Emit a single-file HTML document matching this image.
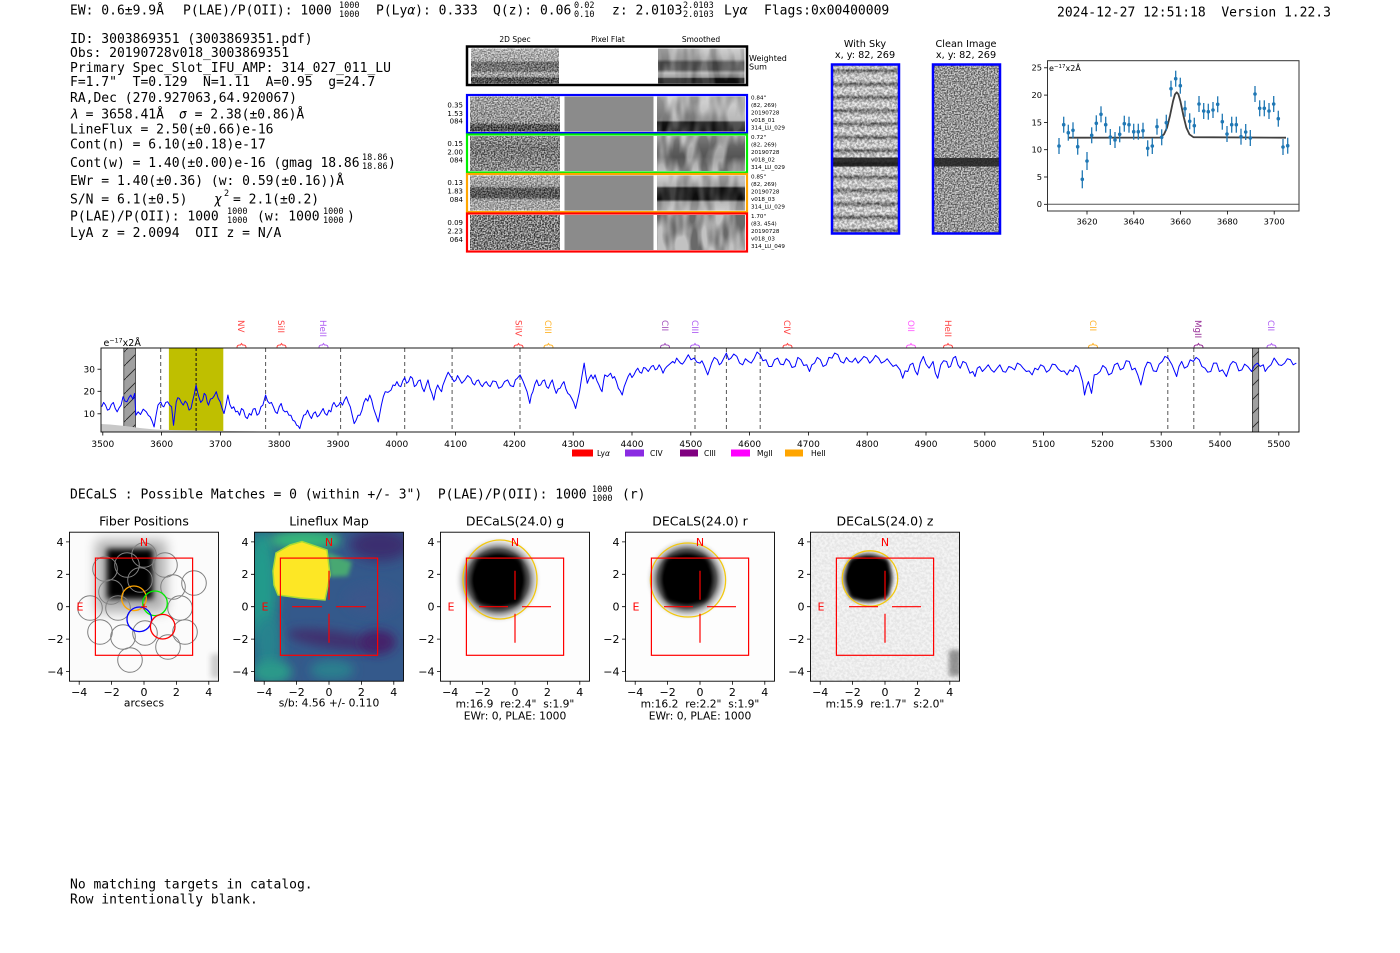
<!DOCTYPE html>
<html><head><meta charset="utf-8"><style>
html,body{margin:0;padding:0;background:#fff;}
svg{display:block;}
text{white-space:pre;}
.m{font-family:"DejaVu Sans Mono","Liberation Mono",monospace;font-size:13px;fill:#000;}
.ss{font-size:8.5px;}
.s{font-family:"DejaVu Sans","Liberation Sans",sans-serif;fill:#000;}
.t11{font-size:11px;}
.t9{font-size:9px;}
.t8{font-size:8px;}
</style></head><body>
<svg width="1400" height="953" viewBox="0 0 1400 953" xmlns="http://www.w3.org/2000/svg" xml:space="preserve">
<defs>
<filter id="nzHi" x="0" y="0" width="1" height="1" color-interpolation-filters="sRGB"><feTurbulence type="fractalNoise" baseFrequency="0.7" numOctaves="1" seed="2"/><feColorMatrix type="matrix" values="3 0 0 0 -1  3 0 0 0 -1  3 0 0 0 -1  0 0 0 0 1"/></filter>
<filter id="nzMd" x="0" y="0" width="1" height="1" color-interpolation-filters="sRGB"><feTurbulence type="fractalNoise" baseFrequency="0.4" numOctaves="2" seed="7"/><feColorMatrix type="matrix" values="3 0 0 0 -1  3 0 0 0 -1  3 0 0 0 -1  0 0 0 0 1"/></filter>
<filter id="nzSm" x="0" y="0" width="1" height="1" color-interpolation-filters="sRGB"><feTurbulence type="fractalNoise" baseFrequency="0.09 0.03" numOctaves="2" seed="5"/><feColorMatrix type="matrix" values="3 0 0 0 -1  3 0 0 0 -1  3 0 0 0 -1  0 0 0 0 1"/></filter>
<filter id="b2" x="-50%" y="-50%" width="200%" height="200%"><feGaussianBlur stdDeviation="2"/></filter>
<filter id="b3" x="-50%" y="-50%" width="200%" height="200%"><feGaussianBlur stdDeviation="3"/></filter>
<filter id="b5" x="-60%" y="-60%" width="220%" height="220%"><feGaussianBlur stdDeviation="5"/></filter>
<filter id="b6" x="-50%" y="-50%" width="200%" height="200%"><feGaussianBlur stdDeviation="6"/></filter>
<filter id="b9" x="-60%" y="-60%" width="220%" height="220%"><feGaussianBlur stdDeviation="9"/></filter>
<linearGradient id="gW2" x1="0" y1="0" x2="0" y2="1"><stop offset="0" stop-color="#d0d0d0"/><stop offset="0.35" stop-color="#c0c0c0"/><stop offset="0.4" stop-color="#666"/><stop offset="0.65" stop-color="#707070"/><stop offset="0.7" stop-color="#c8c8c8"/><stop offset="0.8" stop-color="#b0b0b0"/><stop offset="0.85" stop-color="#303030"/><stop offset="1" stop-color="#303030"/></linearGradient>
<linearGradient id="gWs" x1="0" y1="0" x2="0" y2="1"><stop offset="0" stop-color="#c4c4c4"/><stop offset="0.3" stop-color="#a8a8a8"/><stop offset="0.4" stop-color="#505050"/><stop offset="0.6" stop-color="#555"/><stop offset="0.7" stop-color="#b0b0b0"/><stop offset="0.82" stop-color="#8a8a8a"/><stop offset="0.86" stop-color="#101010"/><stop offset="1" stop-color="#101010"/></linearGradient>
<linearGradient id="gB2" x1="0" y1="0" x2="0" y2="1"><stop offset="0" stop-color="#b8b8b8"/><stop offset="0.75" stop-color="#a8a8a8"/><stop offset="0.8" stop-color="#404040"/><stop offset="1" stop-color="#202020"/></linearGradient>
<linearGradient id="gBs" x1="0" y1="0" x2="0" y2="1"><stop offset="0" stop-color="#c8c8c8"/><stop offset="0.68" stop-color="#a0a0a0"/><stop offset="0.74" stop-color="#1a1a1a"/><stop offset="1" stop-color="#101010"/></linearGradient>
<linearGradient id="gG2" x1="0" y1="0" x2="0" y2="1"><stop offset="0" stop-color="#a0a0a0"/><stop offset="0.35" stop-color="#707070"/><stop offset="0.6" stop-color="#808080"/><stop offset="1" stop-color="#9a9a9a"/></linearGradient>
<linearGradient id="gGs" x1="0" y1="0" x2="0" y2="1"><stop offset="0" stop-color="#b5b5b5"/><stop offset="0.35" stop-color="#8a8a8a"/><stop offset="0.6" stop-color="#7a7a7a"/><stop offset="1" stop-color="#a5a5a5"/></linearGradient>
<linearGradient id="gO2" x1="0" y1="0" x2="0" y2="1"><stop offset="0" stop-color="#c8c8c8"/><stop offset="0.3" stop-color="#b0b0b0"/><stop offset="0.38" stop-color="#404040"/><stop offset="0.62" stop-color="#404040"/><stop offset="0.7" stop-color="#b8b8b8"/><stop offset="1" stop-color="#c0c0c0"/></linearGradient>
<linearGradient id="gOs" x1="0" y1="0" x2="0" y2="1"><stop offset="0" stop-color="#c8c8c8"/><stop offset="0.3" stop-color="#a0a0a0"/><stop offset="0.36" stop-color="#111"/><stop offset="0.68" stop-color="#111"/><stop offset="0.76" stop-color="#a8a8a8"/><stop offset="1" stop-color="#c0c0c0"/></linearGradient>
<linearGradient id="gStr" gradientUnits="userSpaceOnUse" x1="0" y1="64" x2="0" y2="77.3" spreadMethod="repeat"><stop offset="0" stop-color="#ececec"/><stop offset="0.3" stop-color="#d8d8d8"/><stop offset="0.5" stop-color="#5c5c5c"/><stop offset="0.72" stop-color="#c8c8c8"/><stop offset="1" stop-color="#ececec"/></linearGradient>
<radialGradient id="blobG"><stop offset="0" stop-color="#000"/><stop offset="0.55" stop-color="#000"/><stop offset="0.7" stop-color="#444" stop-opacity="0.9"/><stop offset="0.85" stop-color="#aaa" stop-opacity="0.5"/><stop offset="1" stop-color="#fff" stop-opacity="0"/></radialGradient>
<radialGradient id="blobZ"><stop offset="0" stop-color="#000"/><stop offset="0.7" stop-color="#000"/><stop offset="0.85" stop-color="#777" stop-opacity="0.7"/><stop offset="1" stop-color="#fff" stop-opacity="0"/></radialGradient>
<pattern id="hatch" patternUnits="userSpaceOnUse" width="14" height="14"><rect width="14" height="14" fill="#a0a0a0"/><path d="M0,14 L14,0" stroke="#222" stroke-width="0.8"/></pattern>
<clipPath id="cpS"><rect x="101" y="348" width="1198" height="84"/></clipPath>
<clipPath id="cpF"><rect x="69.5" y="532.2" width="149" height="149"/></clipPath>
<clipPath id="cpL"><rect x="254.5" y="532.2" width="149" height="149"/></clipPath>
<clipPath id="cpG"><rect x="440.5" y="532.2" width="149" height="149"/></clipPath>
<clipPath id="cpR"><rect x="625.5" y="532.2" width="149" height="149"/></clipPath>
<clipPath id="cpZ"><rect x="810.5" y="532.2" width="149" height="149"/></clipPath>
</defs>

<!-- HEADER -->
<text class="m" x="70" y="14.5">EW: 0.6±9.9Å</text>
<text class="m" x="183" y="14.5">P(LAE)/P(OII): 1000</text>
<text class="m ss" x="339" y="8">1000</text><text class="m ss" x="339" y="17">1000</text>
<text class="m" x="376" y="14.5">P(Ly<tspan font-style="italic">α</tspan>): 0.333</text>
<text class="m" x="493" y="14.5">Q(z): 0.06</text>
<text class="m ss" x="574" y="8">0.02</text><text class="m ss" x="574" y="17">0.10</text>
<text class="m" x="612" y="14.5">z: 2.0103</text>
<text class="m ss" x="683" y="8">2.0103</text><text class="m ss" x="683" y="17">2.0103</text>
<text class="m" x="724" y="14.5">Ly<tspan font-style="italic">α</tspan></text>
<text class="m" x="764" y="14.5">Flags:0x00400009</text>
<text class="m" x="1057" y="16.5">2024-12-27 12:51:18  Version 1.22.3</text>

<!-- INFO BLOCK -->
<text class="m" x="70" y="42.8">ID: 3003869351 (3003869351.pdf)</text>
<text class="m" x="70" y="57.2">Obs: 20190728v018_3003869351</text>
<text class="m" x="70" y="72.2">Primary Spec_Slot_IFU_AMP: 314_027_011_LU</text>
<text class="m" x="70" y="86.2">F=1.7"  T=0.129  N=1.11  A=0.95  g=24.7</text>
<text class="m" x="70" y="102.2">RA,Dec (270.927063,64.920067)</text>
<text class="m" x="70" y="118.5"><tspan font-style="italic">λ</tspan> = 3658.41Å</text>
<text class="m" x="179" y="118.5"><tspan font-style="italic">σ</tspan> = 2.38(±0.86)Å</text>
<text class="m" x="70" y="133.5">LineFlux = 2.50(±0.66)e-16</text>
<text class="m" x="70" y="148.5">Cont(n) = 6.10(±0.18)e-17</text>
<text class="m" x="70" y="167.2">Cont(w) = 1.40(±0.00)e-16 (gmag 18.86</text>
<text class="m ss" x="362" y="160">18.86</text><text class="m ss" x="362" y="169">18.86</text>
<text class="m" x="388" y="167.2">)</text>
<text class="m" x="70" y="185.2">EWr = 1.40(±0.36) (w: 0.59(±0.16))Å</text>
<text class="m" x="70" y="203.5">S/N = 6.1(±0.5)</text>
<text class="m" x="214" y="203.5"><tspan font-style="italic">χ</tspan></text>
<text class="m ss" x="224" y="196">2</text>
<text class="m" x="233" y="203.5">= 2.1(±0.2)</text>
<text class="m" x="70" y="220.5">P(LAE)/P(OII): 1000</text>
<text class="m ss" x="227" y="214">1000</text><text class="m ss" x="227" y="223">1000</text>
<text class="m" x="257" y="220.5">(w: 1000</text>
<text class="m ss" x="323" y="214">1000</text><text class="m ss" x="323" y="223">1000</text>
<text class="m" x="347" y="220.5">)</text>
<text class="m" x="70" y="236.8">LyA z = 2.0094  OII z = N/A</text>

<!-- 2D SPECTRA -->
<g class="s" font-size="7.5" text-anchor="middle">
<text x="515" y="42">2D Spec</text><text x="608" y="42">Pixel Flat</text><text x="701" y="42">Smoothed</text>
</g>
<text class="s" x="749" y="61" font-size="8">Weighted</text>
<text class="s" x="749" y="69.5" font-size="8">Sum</text>
<rect x="467" y="46.5" width="280" height="38.5" fill="#fff"/>
<rect x="471" y="48.5" width="88" height="35" fill="url(#gW2)"/>
<rect x="471" y="48.5" width="88" height="35" filter="url(#nzHi)" opacity="0.4"/>
<rect x="658" y="48.5" width="86.5" height="35" fill="url(#gWs)"/>
<rect x="658" y="48.5" width="86.5" height="35" filter="url(#nzSm)" opacity="0.2"/>
<rect x="467" y="46.5" width="280" height="38.5" fill="none" stroke="#000" stroke-width="2.5"/>
<g>
<rect x="470" y="96.5" width="90" height="35" fill="url(#gB2)"/><rect x="470" y="96.5" width="90" height="35" filter="url(#nzHi)" opacity="0.45"/>
<rect x="564.5" y="96.5" width="89" height="35" fill="#8b8b8b"/>
<rect x="657" y="96.5" width="88" height="35" fill="url(#gBs)"/><rect x="657" y="96.5" width="88" height="35" filter="url(#nzSm)" opacity="0.25"/>
<rect x="467" y="95" width="280" height="38" fill="none" stroke="#0000ff" stroke-width="2.2"/>

<rect x="470" y="136" width="90" height="35" fill="url(#gG2)"/><rect x="470" y="136" width="90" height="35" filter="url(#nzHi)" opacity="0.5"/>
<rect x="564.5" y="136" width="89" height="35" fill="#8b8b8b"/>
<rect x="657" y="136" width="88" height="35" fill="url(#gGs)"/><rect x="657" y="136" width="88" height="35" filter="url(#nzSm)" opacity="0.3"/>
<rect x="467" y="134.5" width="280" height="38" fill="none" stroke="#00ee00" stroke-width="2.2"/>

<rect x="470" y="175.5" width="90" height="35" fill="url(#gO2)"/><rect x="470" y="175.5" width="90" height="35" filter="url(#nzHi)" opacity="0.4"/>
<rect x="564.5" y="175.5" width="89" height="35" fill="#8b8b8b"/>
<rect x="657" y="175.5" width="88" height="35" fill="url(#gOs)"/><rect x="657" y="175.5" width="88" height="35" filter="url(#nzSm)" opacity="0.2"/>
<rect x="467" y="174" width="280" height="38" fill="none" stroke="#ffa500" stroke-width="2.2"/>

<rect x="470" y="215" width="90" height="35" fill="#7e7e7e"/><rect x="470" y="215" width="90" height="35" filter="url(#nzHi)" opacity="0.6"/>
<rect x="564.5" y="215" width="89" height="35" fill="#8b8b8b"/>
<rect x="657" y="215" width="88" height="35" fill="#a2a2a2"/><rect x="657" y="215" width="88" height="35" filter="url(#nzSm)" opacity="0.35"/>
<rect x="467" y="213.5" width="280" height="38" fill="none" stroke="#ff0000" stroke-width="2.2"/>
</g>
<g class="s" font-size="7" text-anchor="end">
<text x="463" y="107.5">0.35</text><text x="463" y="115.8">1.53</text><text x="463" y="123.5">084</text>
<text x="463" y="146">0.15</text><text x="463" y="154.3">2.00</text><text x="463" y="162.5">084</text>
<text x="463" y="185.2">0.13</text><text x="463" y="193.5">1.83</text><text x="463" y="201.8">084</text>
<text x="463" y="225.2">0.09</text><text x="463" y="233.5">2.23</text><text x="463" y="241.8">064</text>
</g>
<g class="s" font-size="5.6">
<text x="751" y="99.7">0.84"</text><text x="751" y="107.1">(82, 269)</text><text x="751" y="114.5">20190728</text><text x="751" y="121.9">v018_01</text><text x="751" y="129.3">314_LU_029</text>
<text x="751" y="139.2">0.72"</text><text x="751" y="146.6">(82, 269)</text><text x="751" y="154">20190728</text><text x="751" y="161.4">v018_02</text><text x="751" y="168.8">314_LU_029</text>
<text x="751" y="178.7">0.85"</text><text x="751" y="186.1">(82, 269)</text><text x="751" y="193.5">20190728</text><text x="751" y="200.9">v018_03</text><text x="751" y="208.3">314_LU_029</text>
<text x="751" y="218.2">1.70"</text><text x="751" y="225.6">(83, 454)</text><text x="751" y="233">20190728</text><text x="751" y="240.4">v018_03</text><text x="751" y="247.8">314_LU_049</text>
</g>

<!-- WITH SKY / CLEAN -->
<g class="s" font-size="9.7" text-anchor="middle">
<text x="865" y="47">With Sky</text><text x="865" y="58">x, y: 82, 269</text>
<text x="966" y="47">Clean Image</text><text x="966" y="58">x, y: 82, 269</text>
</g>
<rect x="832" y="64.5" width="67" height="169" fill="url(#gStr)"/>
<rect x="832" y="64.5" width="67" height="169" filter="url(#nzMd)" opacity="0.3"/>
<rect x="832" y="157.5" width="67" height="9" fill="#151515" opacity="0.85"/>
<rect x="832" y="64.5" width="67" height="169" fill="none" stroke="#0000ff" stroke-width="2.5"/>
<rect x="933" y="64.5" width="67" height="169" fill="#ababab"/>
<rect x="933" y="64.5" width="67" height="169" filter="url(#nzHi)" opacity="0.5"/>
<rect x="933" y="158" width="67" height="8.5" fill="#1e1e1e" opacity="0.85"/>
<rect x="933" y="64.5" width="67" height="169" fill="none" stroke="#0000ff" stroke-width="2.5"/>

<!-- MINI PLOT -->
<rect x="1047.5" y="60.7" width="251.5" height="150.3" fill="#fff" stroke="#333" stroke-width="1"/>
<line x1="1047.5" y1="204.3" x2="1299" y2="204.3" stroke="#555" stroke-width="1"/>
<g stroke="#000" stroke-width="0.8">
<line x1="1087" y1="211" x2="1087" y2="214.5"/><line x1="1133.8" y1="211" x2="1133.8" y2="214.5"/><line x1="1180.6" y1="211" x2="1180.6" y2="214.5"/><line x1="1227.4" y1="211" x2="1227.4" y2="214.5"/><line x1="1274.2" y1="211" x2="1274.2" y2="214.5"/>
<line x1="1044" y1="204.3" x2="1047.5" y2="204.3"/><line x1="1044" y1="177" x2="1047.5" y2="177"/><line x1="1044" y1="149.7" x2="1047.5" y2="149.7"/><line x1="1044" y1="122.4" x2="1047.5" y2="122.4"/><line x1="1044" y1="95.1" x2="1047.5" y2="95.1"/><line x1="1044" y1="67.8" x2="1047.5" y2="67.8"/>
</g>
<g class="s" font-size="8.3" text-anchor="middle">
<text x="1087" y="224.5">3620</text><text x="1133.8" y="224.5">3640</text><text x="1180.6" y="224.5">3660</text><text x="1227.4" y="224.5">3680</text><text x="1274.2" y="224.5">3700</text>
</g>
<g class="s" font-size="8.3" text-anchor="end">
<text x="1042" y="207.2">0</text><text x="1042" y="179.9">5</text><text x="1042" y="152.6">10</text><text x="1042" y="125.3">15</text><text x="1042" y="98">20</text><text x="1042" y="70.7">25</text>
</g>
<text class="s" x="1049" y="71" font-size="8">e<tspan dy="-3" font-size="5.5">−17</tspan><tspan dy="3">x2Å</tspan></text>
<polyline fill="none" stroke="#404040" stroke-width="1.8" stroke-linejoin="round" points="1068,137.7 1160,137.6 1164,134.3 1167,127.8 1170,115.6 1173,101.3 1175,94.3 1176.7,92.3 1178.4,94.3 1180.4,101.3 1183.4,115.6 1186.4,127.8 1189.4,134.3 1193.4,137.2 1286,137.7"/>
<g stroke="#1f77b4" stroke-width="1.3">
<line x1="1059" y1="138" x2="1059" y2="154"/><line x1="1063.7" y1="116.7" x2="1063.7" y2="132.7"/><line x1="1068.3" y1="124.7" x2="1068.3" y2="140.7"/><line x1="1073" y1="122.3" x2="1073" y2="138.3"/><line x1="1077.7" y1="138.7" x2="1077.7" y2="154.7"/><line x1="1082.3" y1="170.3" x2="1082.3" y2="188.3"/><line x1="1087" y1="152" x2="1087" y2="170"/><line x1="1091.7" y1="127.3" x2="1091.7" y2="143.3"/><line x1="1096.3" y1="115.3" x2="1096.3" y2="131.3"/><line x1="1101" y1="106.3" x2="1101" y2="122.3"/>
<line x1="1105.7" y1="116.7" x2="1105.7" y2="132.7"/><line x1="1110.3" y1="129" x2="1110.3" y2="145"/><line x1="1115" y1="132" x2="1115" y2="148"/><line x1="1119.7" y1="126.3" x2="1119.7" y2="142.3"/><line x1="1124.3" y1="115.7" x2="1124.3" y2="131.7"/><line x1="1129" y1="116.7" x2="1129" y2="132.7"/><line x1="1133.7" y1="123.7" x2="1133.7" y2="139.7"/><line x1="1138.3" y1="123.7" x2="1138.3" y2="139.7"/><line x1="1143" y1="122.7" x2="1143" y2="138.7"/><line x1="1147.7" y1="140.3" x2="1147.7" y2="156.3"/>
<line x1="1152.3" y1="138" x2="1152.3" y2="154"/><line x1="1157" y1="118.7" x2="1157" y2="134.7"/><line x1="1161.7" y1="129.3" x2="1161.7" y2="145.3"/><line x1="1166.3" y1="114.7" x2="1166.3" y2="130.7"/><line x1="1171" y1="80.7" x2="1171" y2="96.7"/><line x1="1175.7" y1="70.7" x2="1175.7" y2="86.7"/><line x1="1180.3" y1="77.7" x2="1180.3" y2="93.7"/><line x1="1185" y1="100.7" x2="1185" y2="116.7"/><line x1="1189.7" y1="113.3" x2="1189.7" y2="129.3"/><line x1="1194.3" y1="117.7" x2="1194.3" y2="133.7"/>
<line x1="1199" y1="96" x2="1199" y2="112"/><line x1="1203.7" y1="103" x2="1203.7" y2="119"/><line x1="1208.3" y1="103.7" x2="1208.3" y2="119.7"/><line x1="1213" y1="102" x2="1213" y2="118"/><line x1="1217.7" y1="96.3" x2="1217.7" y2="112.3"/><line x1="1222.3" y1="113.7" x2="1222.3" y2="129.7"/><line x1="1227" y1="126" x2="1227" y2="142"/><line x1="1231.7" y1="116.7" x2="1231.7" y2="132.7"/><line x1="1236.3" y1="116.7" x2="1236.3" y2="132.7"/><line x1="1241" y1="128.7" x2="1241" y2="144.7"/>
<line x1="1245.7" y1="124" x2="1245.7" y2="140"/><line x1="1250.3" y1="130" x2="1250.3" y2="146"/><line x1="1255" y1="86" x2="1255" y2="102"/><line x1="1259.7" y1="100.3" x2="1259.7" y2="116.3"/><line x1="1264.3" y1="100.3" x2="1264.3" y2="116.3"/><line x1="1269" y1="103" x2="1269" y2="119"/><line x1="1273.7" y1="96" x2="1273.7" y2="112"/><line x1="1278.3" y1="110.7" x2="1278.3" y2="126.7"/><line x1="1283" y1="139" x2="1283" y2="155"/><line x1="1287.7" y1="137.7" x2="1287.7" y2="153.7"/>
</g>
<g fill="#1f77b4">
<circle cx="1059" cy="146" r="1.8"/><circle cx="1063.7" cy="124.7" r="1.8"/><circle cx="1068.3" cy="132.7" r="1.8"/><circle cx="1073" cy="130.3" r="1.8"/><circle cx="1077.7" cy="146.7" r="1.8"/><circle cx="1082.3" cy="179.3" r="1.8"/><circle cx="1087" cy="161" r="1.8"/><circle cx="1091.7" cy="135.3" r="1.8"/><circle cx="1096.3" cy="123.3" r="1.8"/><circle cx="1101" cy="114.3" r="1.8"/>
<circle cx="1105.7" cy="124.7" r="1.8"/><circle cx="1110.3" cy="137" r="1.8"/><circle cx="1115" cy="140" r="1.8"/><circle cx="1119.7" cy="134.3" r="1.8"/><circle cx="1124.3" cy="123.7" r="1.8"/><circle cx="1129" cy="124.7" r="1.8"/><circle cx="1133.7" cy="131.7" r="1.8"/><circle cx="1138.3" cy="131.7" r="1.8"/><circle cx="1143" cy="130.7" r="1.8"/><circle cx="1147.7" cy="148.3" r="1.8"/>
<circle cx="1152.3" cy="146" r="1.8"/><circle cx="1157" cy="126.7" r="1.8"/><circle cx="1161.7" cy="137.3" r="1.8"/><circle cx="1166.3" cy="122.7" r="1.8"/><circle cx="1171" cy="88.7" r="1.8"/><circle cx="1175.7" cy="78.7" r="1.8"/><circle cx="1180.3" cy="85.7" r="1.8"/><circle cx="1185" cy="108.7" r="1.8"/><circle cx="1189.7" cy="121.3" r="1.8"/><circle cx="1194.3" cy="125.7" r="1.8"/>
<circle cx="1199" cy="104" r="1.8"/><circle cx="1203.7" cy="111" r="1.8"/><circle cx="1208.3" cy="111.7" r="1.8"/><circle cx="1213" cy="110" r="1.8"/><circle cx="1217.7" cy="104.3" r="1.8"/><circle cx="1222.3" cy="121.7" r="1.8"/><circle cx="1227" cy="134" r="1.8"/><circle cx="1231.7" cy="124.7" r="1.8"/><circle cx="1236.3" cy="124.7" r="1.8"/><circle cx="1241" cy="136.7" r="1.8"/>
<circle cx="1245.7" cy="132" r="1.8"/><circle cx="1250.3" cy="138" r="1.8"/><circle cx="1255" cy="94" r="1.8"/><circle cx="1259.7" cy="108.3" r="1.8"/><circle cx="1264.3" cy="108.3" r="1.8"/><circle cx="1269" cy="111" r="1.8"/><circle cx="1273.7" cy="104" r="1.8"/><circle cx="1278.3" cy="118.7" r="1.8"/><circle cx="1283" cy="147" r="1.8"/><circle cx="1287.7" cy="145.7" r="1.8"/>
</g>

<!-- MAIN SPECTRUM LABELS -->
<g class="s" font-size="8.7" opacity="0.85">
<text transform="translate(238,320) rotate(90)" fill="#ff2020">NV</text>
<text transform="translate(278,320) rotate(90)" fill="#ff2020">SiII</text>
<text transform="translate(320,320) rotate(90)" fill="#a040f0">HeII</text>
<text transform="translate(515.5,320) rotate(90)" fill="#ff2020">SiIV</text>
<text transform="translate(545,320) rotate(90)" fill="#ffa500">CIII</text>
<text transform="translate(662,320) rotate(90)" fill="#9030b0">CII</text>
<text transform="translate(692,320) rotate(90)" fill="#a040f0">CIII</text>
<text transform="translate(784,320) rotate(90)" fill="#ff2020">CIV</text>
<text transform="translate(908,320) rotate(90)" fill="#ff40ff">OII</text>
<text transform="translate(945,320) rotate(90)" fill="#ff2020">HeII</text>
<text transform="translate(1090,320) rotate(90)" fill="#ffa500">CII</text>
<text transform="translate(1195,320) rotate(90)" fill="#800080">MgII</text>
<text transform="translate(1268,320) rotate(90)" fill="#a040f0">CII</text>
</g>
<g fill="none" stroke-width="1" opacity="0.85">
<path d="M237,347.5 Q237,345 239.5,345 L240.5,345 L241.5,343.5 L242.5,345 L243.5,345 Q246,345 246,347.5" stroke="#ff2020"/>
<path d="M277,347.5 Q277,345 279.5,345 L280.5,345 L281.5,343.5 L282.5,345 L283.5,345 Q286,345 286,347.5" stroke="#ff2020"/>
<path d="M319,347.5 Q319,345 321.5,345 L322.5,345 L323.5,343.5 L324.5,345 L325.5,345 Q328,345 328,347.5" stroke="#a040f0"/>
<path d="M514,347.5 Q514,345 516.5,345 L517.5,345 L518.5,343.5 L519.5,345 L520.5,345 Q523,345 523,347.5" stroke="#ff2020"/>
<path d="M544,347.5 Q544,345 546.5,345 L547.5,345 L548.5,343.5 L549.5,345 L550.5,345 Q553,345 553,347.5" stroke="#ffa500"/>
<path d="M660.5,347.5 Q660.5,345 663,345 L664,345 L665,343.5 L666,345 L667,345 Q669.5,345 669.5,347.5" stroke="#9030b0"/>
<path d="M690.5,347.5 Q690.5,345 693,345 L694,345 L695,343.5 L696,345 L697,345 Q699.5,345 699.5,347.5" stroke="#a040f0"/>
<path d="M783,347.5 Q783,345 785.5,345 L786.5,345 L787.5,343.5 L788.5,345 L789.5,345 Q792,345 792,347.5" stroke="#ff2020"/>
<path d="M906.5,347.5 Q906.5,345 909,345 L910,345 L911,343.5 L912,345 L913,345 Q915.5,345 915.5,347.5" stroke="#ff40ff"/>
<path d="M943.5,347.5 Q943.5,345 946,345 L947,345 L948,343.5 L949,345 L950,345 Q952.5,345 952.5,347.5" stroke="#ff2020"/>
<path d="M1088.5,347.5 Q1088.5,345 1091,345 L1092,345 L1093,343.5 L1094,345 L1095,345 Q1097.5,345 1097.5,347.5" stroke="#ffa500"/>
<path d="M1194,347.5 Q1194,345 1196.5,345 L1197.5,345 L1198.5,343.5 L1199.5,345 L1200.5,345 Q1203,345 1203,347.5" stroke="#800080"/>
<path d="M1267,347.5 Q1267,345 1269.5,345 L1270.5,345 L1271.5,343.5 L1272.5,345 L1273.5,345 Q1276,345 1276,347.5" stroke="#a040f0"/>
</g>
<text class="s" x="103.5" y="346" font-size="9.5">e<tspan dy="-3.5" font-size="6.3">−17</tspan><tspan dy="3.5">x2Å</tspan></text>
<g clip-path="url(#cpS)">
<rect x="101" y="348" width="1198" height="84" fill="#fff"/>
<rect x="168.9" y="348" width="54.4" height="84" fill="#bfbf00"/>
<rect x="123.8" y="348" width="11.7" height="84" fill="url(#hatch)" stroke="#333" stroke-width="0.8"/>
<rect x="1252.4" y="348" width="6.3" height="84" fill="url(#hatch)" stroke="#333" stroke-width="0.8"/>
<polygon fill="#c8c8c8" points="101,432 101,424 110,424.5 125,426 140,428 155,429.5 170,430 230,431 260,431.5 260,432"/>
<g stroke="#555" stroke-width="1" stroke-dasharray="4,3">
<line x1="160.7" y1="348" x2="160.7" y2="432"/><line x1="265.6" y1="348" x2="265.6" y2="432"/><line x1="340.6" y1="348" x2="340.6" y2="432"/><line x1="404.7" y1="348" x2="404.7" y2="432"/><line x1="452.1" y1="348" x2="452.1" y2="432"/><line x1="520" y1="348" x2="520" y2="432"/><line x1="695" y1="348" x2="695" y2="432"/><line x1="726.4" y1="348" x2="726.4" y2="432"/><line x1="760.2" y1="348" x2="760.2" y2="432"/><line x1="1167.8" y1="348" x2="1167.8" y2="432"/><line x1="1193.8" y1="348" x2="1193.8" y2="432"/>
</g>
<line x1="196.1" y1="348" x2="196.1" y2="432" stroke="#111" stroke-width="1" stroke-dasharray="3,2"/>
<polyline transform="translate(90,314.4) scale(0.3885,0.336)" vector-effect="non-scaling-stroke" fill="none" stroke="#0000ff" stroke-width="1" stroke-linejoin="round" points="30,275 35,262 40,270 45,285 50,282 55,268 60,262 65,280 70,290 75,278 80,270 85,245 90,258 95,260 100,248 105,240 110,252 115,235 118,300 124,290 130,298 137,282 145,290 150,300 155,305 160,318 165,335 170,300 175,270 182,260 186,272 190,275 195,262 200,260 205,270 210,275 215,330 222,260 226,248 230,250 235,262 240,270 245,258 250,265 255,285 260,280 264,258 268,240 273,210 277,232 280,245 285,262 290,255 294,235 298,240 302,262 305,270 310,252 315,250 320,242 325,230 330,250 335,260 340,280 345,295 350,270 355,240 360,268 365,280 370,275 375,290 380,288 385,300 390,280 395,285 400,305 405,310 410,295 415,300 420,282 425,280 430,300 435,295 440,275 445,270 452,240 457,258 462,265 467,262 472,275 477,290 482,295 487,275 492,265 497,285 502,290 507,288 512,300 517,300 522,315 527,318 532,330 536,332 540,340 545,318 550,300 555,298 560,285 565,300 570,310 575,295 580,290 585,305 590,300 595,290 600,280 605,295 610,300 615,285 620,290 624,270 628,262 634,275 640,270 645,260 650,270 655,255 660,245 665,262 670,275 675,300 680,325 685,315 690,300 695,300 700,285 705,262 710,250 715,258 720,240 725,255 730,280 736,300 742,320 746,295 750,270 755,245 760,230 767,232 775,225 780,210 785,212 790,200 795,212 800,215 805,198 810,188 815,205 820,200 825,185 830,190 835,215 840,210 845,198 850,195 855,218 860,230 865,212 870,195 875,220 880,235 885,255 890,225 895,210 900,222 905,230 908,212 912,200 917,185 922,172 927,182 932,190 937,200 942,195 946,182 950,190 957,205 965,195 972,182 980,190 985,205 990,210 995,198 1000,195 1005,208 1010,215 1015,205 1020,200 1025,210 1030,215 1037,198 1045,200 1052,220 1060,215 1067,200 1075,195 1082,212 1090,215 1095,195 1100,190 1107,180 1111,190 1115,200 1120,215 1125,230 1132,265 1136,240 1140,230 1145,208 1150,195 1155,212 1160,210 1165,198 1170,195 1175,215 1180,220 1185,205 1190,195 1195,218 1200,235 1205,222 1210,220 1215,208 1220,200 1225,222 1230,235 1235,240 1240,250 1245,262 1250,280 1255,255 1260,230 1266,185 1272,145 1276,178 1280,205 1285,190 1290,180 1295,192 1300,180 1305,198 1310,210 1314,222 1318,230 1322,198 1325,180 1332,185 1340,175 1345,190 1350,185 1355,200 1360,220 1365,228 1370,240 1375,215 1380,200 1385,185 1390,175 1395,188 1400,180 1405,168 1410,160 1415,172 1420,175 1425,158 1430,160 1437,170 1445,155 1450,152 1455,165 1460,162 1465,150 1470,160 1475,175 1480,162 1485,155 1492,148 1500,140 1505,145 1510,130 1515,138 1520,145 1525,148 1530,140 1535,130 1540,120 1547,135 1555,130 1562,142 1570,145 1575,138 1580,150 1590,180 1600,145 1607,128 1615,135 1620,150 1625,145 1638,115 1644,135 1650,130 1657,118 1665,125 1672,145 1680,150 1687,132 1695,140 1702,145 1710,130 1717,112 1725,120 1732,138 1740,135 1747,155 1755,155 1762,135 1770,130 1777,148 1785,150 1792,132 1800,140 1807,158 1815,155 1822,128 1830,135 1837,152 1845,150 1852,170 1858,150 1865,145 1872,128 1880,135 1887,155 1895,150 1902,128 1910,130 1917,115 1925,120 1932,140 1940,145 1947,128 1955,140 1962,142 1970,130 1977,145 1985,135 1992,125 2000,130 2007,145 2015,135 2022,122 2030,130 2037,145 2045,140 2052,132 2060,145 2067,155 2075,150 2085,165 2092,190 2098,168 2105,170 2111,150 2118,145 2124,168 2130,180 2137,145 2145,125 2152,148 2160,160 2170,140 2176,175 2182,190 2190,150 2197,138 2205,140 2210,158 2215,155 2222,130 2228,125 2234,150 2240,160 2247,140 2255,145 2265,175 2272,170 2278,185 2284,160 2290,155 2297,170 2305,160 2312,150 2320,165 2327,172 2335,160 2342,150 2350,170 2357,172 2365,155 2372,158 2380,165 2387,145 2395,150 2402,160 2410,170 2417,168 2425,180 2432,160 2440,165 2447,150 2455,155 2462,172 2470,165 2477,148 2485,150 2492,162 2500,170 2507,168 2515,180 2522,165 2530,170 2537,152 2545,160 2555,200 2560,240 2565,215 2570,200 2578,235 2585,180 2592,178 2600,170 2607,152 2615,160 2622,180 2630,175 2637,150 2645,145 2652,165 2660,160 2667,138 2675,140 2682,165 2690,160 2697,180 2705,210 2715,160 2722,142 2730,145 2737,168 2745,170 2752,148 2760,140 2767,125 2775,130 2785,150 2797,185 2803,155 2810,140 2817,160 2825,155 2832,135 2840,140 2847,128 2855,135 2862,155 2870,160 2877,172 2885,170 2892,145 2900,145 2907,170 2915,165 2925,185 2935,150 2942,140 2950,145 2957,168 2965,165 2972,148 2980,155 2990,170 2997,152 3005,145 3012,155 3020,150 3025,170 3032,158 3040,150 3048,130 3054,140 3060,150 3067,152 3075,145 3082,132 3090,135 3097,150 3105,145"/>
</g>
<rect x="101" y="348" width="1198" height="84" fill="none" stroke="#000" stroke-width="0.9"/>
<g stroke="#000" stroke-width="0.8">
<line x1="97.5" y1="369.2" x2="101" y2="369.2"/><line x1="97.5" y1="391.3" x2="101" y2="391.3"/><line x1="97.5" y1="413.8" x2="101" y2="413.8"/>
<line x1="102.8" y1="432" x2="102.8" y2="435.5"/><line x1="161.6" y1="432" x2="161.6" y2="435.5"/><line x1="220.4" y1="432" x2="220.4" y2="435.5"/><line x1="279.2" y1="432" x2="279.2" y2="435.5"/><line x1="338" y1="432" x2="338" y2="435.5"/><line x1="396.8" y1="432" x2="396.8" y2="435.5"/><line x1="455.6" y1="432" x2="455.6" y2="435.5"/><line x1="514.4" y1="432" x2="514.4" y2="435.5"/><line x1="573.2" y1="432" x2="573.2" y2="435.5"/><line x1="632" y1="432" x2="632" y2="435.5"/><line x1="690.8" y1="432" x2="690.8" y2="435.5"/><line x1="749.6" y1="432" x2="749.6" y2="435.5"/><line x1="808.4" y1="432" x2="808.4" y2="435.5"/><line x1="867.2" y1="432" x2="867.2" y2="435.5"/><line x1="926" y1="432" x2="926" y2="435.5"/><line x1="984.8" y1="432" x2="984.8" y2="435.5"/><line x1="1043.6" y1="432" x2="1043.6" y2="435.5"/><line x1="1102.4" y1="432" x2="1102.4" y2="435.5"/><line x1="1161.2" y1="432" x2="1161.2" y2="435.5"/><line x1="1220" y1="432" x2="1220" y2="435.5"/><line x1="1278.8" y1="432" x2="1278.8" y2="435.5"/>
</g>
<g class="s t9" text-anchor="end"><text x="95" y="372.4">30</text><text x="95" y="394.5">20</text><text x="95" y="417">10</text></g>
<g class="s t9" text-anchor="middle">
<text x="102.8" y="447">3500</text><text x="161.6" y="447">3600</text><text x="220.4" y="447">3700</text><text x="279.2" y="447">3800</text><text x="338" y="447">3900</text><text x="396.8" y="447">4000</text><text x="455.6" y="447">4100</text><text x="514.4" y="447">4200</text><text x="573.2" y="447">4300</text><text x="632" y="447">4400</text><text x="690.8" y="447">4500</text><text x="749.6" y="447">4600</text><text x="808.4" y="447">4700</text><text x="867.2" y="447">4800</text><text x="926" y="447">4900</text><text x="984.8" y="447">5000</text><text x="1043.6" y="447">5100</text><text x="1102.4" y="447">5200</text><text x="1161.2" y="447">5300</text><text x="1220" y="447">5400</text><text x="1278.8" y="447">5500</text>
</g>
<rect x="572" y="449.5" width="21" height="7" fill="#ff0000"/>
<rect x="625" y="449.5" width="19" height="7" fill="#8a2be2"/>
<rect x="680" y="449.5" width="18" height="7" fill="#800080"/>
<rect x="731" y="449.5" width="19" height="7" fill="#ff00ff"/>
<rect x="785" y="449.5" width="18" height="7" fill="#ffa500"/>
<g class="s" font-size="7.5"><text x="597" y="455.8">Ly<tspan font-style="italic">α</tspan></text><text x="650" y="455.8">CIV</text><text x="704" y="455.8">CIII</text><text x="757" y="455.8">MgII</text><text x="811" y="455.8">HeII</text></g>

<!-- DECALS LINE -->
<text class="m" x="70" y="498.5">DECaLS : Possible Matches = 0 (within +/- 3")  P(LAE)/P(OII): 1000</text>
<text class="m ss" x="592" y="492">1000</text><text class="m ss" x="592" y="501">1000</text>
<text class="m" x="622" y="498.5">(r)</text>

<!-- PANEL TITLES -->
<g class="s" font-size="12.5" text-anchor="middle">
<text x="144" y="525.5">Fiber Positions</text><text x="329" y="525.5">Lineflux Map</text><text x="515" y="525.5">DECaLS(24.0) g</text><text x="700" y="525.5">DECaLS(24.0) r</text><text x="885" y="525.5">DECaLS(24.0) z</text>
</g>

<!-- Fiber panel -->
<g clip-path="url(#cpF)">
<rect x="69.5" y="532.2" width="149" height="149" fill="#fbfbfb"/>
<rect x="96" y="540" width="70" height="72" fill="#000" opacity="0.3" filter="url(#b6)"/>
<rect x="107" y="549" width="46" height="50" fill="#000" filter="url(#b3)"/>
<rect x="211" y="654" width="10" height="24" fill="#999" opacity="0.5" filter="url(#b3)"/>
<g fill="none" stroke="#808080" stroke-width="1">
<circle cx="144" cy="555" r="12.3"/><circle cx="165" cy="565" r="12.3"/><circle cx="105" cy="569" r="12.3"/><circle cx="127" cy="565" r="12.3"/><circle cx="140" cy="580" r="12.3"/><circle cx="111" cy="592" r="12.3"/><circle cx="173" cy="587" r="12.3"/><circle cx="194" cy="583" r="12.3"/><circle cx="90" cy="608" r="12.3"/><circle cx="118" cy="608" r="12.3"/><circle cx="180" cy="608" r="12.3"/><circle cx="100" cy="632" r="12.3"/><circle cx="123" cy="637" r="12.3"/><circle cx="145" cy="633" r="12.3"/><circle cx="185" cy="632" r="12.3"/><circle cx="168" cy="647" r="12.3"/><circle cx="130" cy="660" r="12.3"/>
</g>
<circle cx="134" cy="598.3" r="12.3" fill="none" stroke="#ffa500" stroke-width="1.3"/>
<circle cx="155" cy="603.3" r="12.3" fill="none" stroke="#00ee00" stroke-width="1.3"/>
<circle cx="139.3" cy="619.3" r="12.3" fill="none" stroke="#0000ff" stroke-width="1.3"/>
<circle cx="162.7" cy="626.7" r="12.3" fill="none" stroke="#ff0000" stroke-width="1.3"/>
<rect x="95.4" y="558.1" width="97.2" height="97.2" fill="none" stroke="#ff0000" stroke-width="1.2"/>
<path d="M141,606.7 H147 M144,603.7 V609.7" stroke="#ff0000" stroke-width="1"/>
</g>

<!-- Lineflux panel -->
<g clip-path="url(#cpL)">
<rect x="254.5" y="532.2" width="149" height="149" fill="#34598b"/>
<ellipse cx="262" cy="585" rx="16" ry="55" fill="#229a8b" filter="url(#b6)"/>
<ellipse cx="305" cy="540" rx="36" ry="10" fill="#35b779" filter="url(#b5)"/>
<ellipse cx="268" cy="645" rx="14" ry="30" fill="#25838e" filter="url(#b6)"/>
<ellipse cx="272" cy="672" rx="20" ry="12" fill="#2a9a8a" filter="url(#b5)"/>
<ellipse cx="332" cy="670" rx="22" ry="10" fill="#2c7f8e" filter="url(#b5)"/>
<ellipse cx="380" cy="545" rx="30" ry="16" fill="#3b2f70" filter="url(#b6)"/>
<ellipse cx="335" cy="640" rx="48" ry="9" transform="rotate(8 335 640)" fill="#40306f" filter="url(#b5)"/>
<ellipse cx="378" cy="642" rx="18" ry="12" fill="#45206a" filter="url(#b5)"/>
<ellipse cx="372" cy="600" rx="26" ry="14" fill="#3a568b" filter="url(#b5)"/>
<polygon points="327,552 352,562 348,576 330,577" fill="#4fc36a" opacity="0.75" filter="url(#b2)"/>
<polygon points="273,571 276,553 290,545 302,541.5 327,550 330,575 325,600 300,598 278,595 274,585" fill="#fde725" stroke="#a8db34" stroke-width="1.5"/>
<rect x="280.4" y="558.1" width="97.2" height="97.2" fill="none" stroke="#ff0000" stroke-width="1.2"/>
<path d="M292,606.7 H322 M336,606.7 H366 M329,570.7 V599.7 M329,613.7 V642.7" stroke="#ff0000" stroke-width="1.2"/>
</g>

<!-- g panel -->
<g clip-path="url(#cpG)">
<rect x="440.5" y="532.2" width="149" height="149" fill="#fdfdfd"/>
<circle cx="498" cy="580" r="44" fill="url(#blobG)"/>
<rect x="476" y="557" width="45" height="47" rx="8" fill="#000" filter="url(#b2)"/>
<ellipse cx="500" cy="579.5" rx="37" ry="39.5" fill="none" stroke="#f2c811" stroke-width="1.3"/>
<rect x="466.4" y="558.1" width="97.2" height="97.2" fill="none" stroke="#ff0000" stroke-width="1.2"/>
<path d="M479,606.7 H508 M522,606.7 H551 M515,570.7 V599.7 M515,613.7 V642.7" stroke="#ff0000" stroke-width="1.2"/>
</g>
<!-- r panel -->
<g clip-path="url(#cpR)">
<rect x="625.5" y="532.2" width="149" height="149" fill="#fdfdfd"/>
<circle cx="687" cy="579" r="42" fill="url(#blobG)"/>
<rect x="665" y="557" width="44" height="45" rx="8" fill="#000" filter="url(#b2)"/>
<ellipse cx="688" cy="580" rx="37.6" ry="37" fill="none" stroke="#f2c811" stroke-width="1.3"/>
<rect x="651.4" y="558.1" width="97.2" height="97.2" fill="none" stroke="#ff0000" stroke-width="1.2"/>
<path d="M664,606.7 H693 M707,606.7 H736 M700,570.7 V599.7 M700,613.7 V642.7" stroke="#ff0000" stroke-width="1.2"/>
</g>
<!-- z panel -->
<g clip-path="url(#cpZ)">
<rect x="810.5" y="532.2" width="149" height="149" fill="#f4f4f4"/>
<rect x="810.5" y="532.2" width="149" height="149" filter="url(#nzMd)" opacity="0.06"/>
<rect x="949" y="650" width="12" height="26" fill="#555" opacity="0.6" filter="url(#b2)"/>
<circle cx="868" cy="578" r="29" fill="url(#blobZ)"/>
<rect x="849" y="558" width="40" height="41" rx="6" fill="#000" filter="url(#b2)"/>
<circle cx="870" cy="578.5" r="27.7" fill="none" stroke="#f2c811" stroke-width="1.3"/>
<rect x="836.4" y="558.1" width="97.2" height="97.2" fill="none" stroke="#ff0000" stroke-width="1.2"/>
<path d="M849,606.7 H878 M892,606.7 H921 M885,570.7 V599.7 M885,613.7 V642.7" stroke="#ff0000" stroke-width="1.2"/>
</g>

<!-- panel frames + N/E + ticks -->
<g fill="none" stroke="#000" stroke-width="0.9">
<rect x="69.5" y="532.2" width="149" height="149"/><rect x="254.5" y="532.2" width="149" height="149"/><rect x="440.5" y="532.2" width="149" height="149"/><rect x="625.5" y="532.2" width="149" height="149"/><rect x="810.5" y="532.2" width="149" height="149"/>
</g>
<g class="s t11" text-anchor="middle" style="fill:#ff0000">
<text x="144" y="546" style="fill:#ff0000">N</text><text x="80" y="610.7" style="fill:#ff0000">E</text>
<text x="329" y="546" style="fill:#ff0000">N</text><text x="265" y="610.7" style="fill:#ff0000">E</text>
<text x="515" y="546" style="fill:#ff0000">N</text><text x="451" y="610.7" style="fill:#ff0000">E</text>
<text x="700" y="546" style="fill:#ff0000">N</text><text x="636" y="610.7" style="fill:#ff0000">E</text>
<text x="885" y="546" style="fill:#ff0000">N</text><text x="821" y="610.7" style="fill:#ff0000">E</text>
</g>
<g stroke="#000" stroke-width="0.8">
<path d="M79.2,681.2v3.5 M111.6,681.2v3.5 M144,681.2v3.5 M176.4,681.2v3.5 M208.8,681.2v3.5 M66,541.9h3.5 M66,574.3h3.5 M66,606.7h3.5 M66,639.1h3.5 M66,671.5h3.5"/>
<path d="M264.2,681.2v3.5 M296.6,681.2v3.5 M329,681.2v3.5 M361.4,681.2v3.5 M393.8,681.2v3.5 M251,541.9h3.5 M251,574.3h3.5 M251,606.7h3.5 M251,639.1h3.5 M251,671.5h3.5"/>
<path d="M450.2,681.2v3.5 M482.6,681.2v3.5 M515,681.2v3.5 M547.4,681.2v3.5 M579.8,681.2v3.5 M437,541.9h3.5 M437,574.3h3.5 M437,606.7h3.5 M437,639.1h3.5 M437,671.5h3.5"/>
<path d="M635.2,681.2v3.5 M667.6,681.2v3.5 M700,681.2v3.5 M732.4,681.2v3.5 M764.8,681.2v3.5 M622,541.9h3.5 M622,574.3h3.5 M622,606.7h3.5 M622,639.1h3.5 M622,671.5h3.5"/>
<path d="M820.2,681.2v3.5 M852.6,681.2v3.5 M885,681.2v3.5 M917.4,681.2v3.5 M949.8,681.2v3.5 M807,541.9h3.5 M807,574.3h3.5 M807,606.7h3.5 M807,639.1h3.5 M807,671.5h3.5"/>
</g>
<g class="s t11" text-anchor="middle">
<text x="79.2" y="696">−4</text><text x="111.6" y="696">−2</text><text x="144" y="696">0</text><text x="176.4" y="696">2</text><text x="208.8" y="696">4</text>
<text x="264.2" y="696">−4</text><text x="296.6" y="696">−2</text><text x="329" y="696">0</text><text x="361.4" y="696">2</text><text x="393.8" y="696">4</text>
<text x="450.2" y="696">−4</text><text x="482.6" y="696">−2</text><text x="515" y="696">0</text><text x="547.4" y="696">2</text><text x="579.8" y="696">4</text>
<text x="635.2" y="696">−4</text><text x="667.6" y="696">−2</text><text x="700" y="696">0</text><text x="732.4" y="696">2</text><text x="764.8" y="696">4</text>
<text x="820.2" y="696">−4</text><text x="852.6" y="696">−2</text><text x="885" y="696">0</text><text x="917.4" y="696">2</text><text x="949.8" y="696">4</text>
</g>
<g class="s t11" text-anchor="end">
<text x="63.5" y="545.8">4</text><text x="63.5" y="578.2">2</text><text x="63.5" y="610.6">0</text><text x="63.5" y="643">−2</text><text x="63.5" y="675.4">−4</text>
<text x="248.5" y="545.8">4</text><text x="248.5" y="578.2">2</text><text x="248.5" y="610.6">0</text><text x="248.5" y="643">−2</text><text x="248.5" y="675.4">−4</text>
<text x="434.5" y="545.8">4</text><text x="434.5" y="578.2">2</text><text x="434.5" y="610.6">0</text><text x="434.5" y="643">−2</text><text x="434.5" y="675.4">−4</text>
<text x="619.5" y="545.8">4</text><text x="619.5" y="578.2">2</text><text x="619.5" y="610.6">0</text><text x="619.5" y="643">−2</text><text x="619.5" y="675.4">−4</text>
<text x="804.5" y="545.8">4</text><text x="804.5" y="578.2">2</text><text x="804.5" y="610.6">0</text><text x="804.5" y="643">−2</text><text x="804.5" y="675.4">−4</text>
</g>
<g class="s" font-size="10.7" text-anchor="middle">
<text x="144" y="706.5">arcsecs</text>
<text x="329" y="706.5">s/b: 4.56 +/- 0.110</text>
<text x="515" y="707.5">m:16.9  re:2.4"  s:1.9"</text><text x="515" y="719.5">EWr: 0, PLAE: 1000</text>
<text x="700" y="707.5">m:16.2  re:2.2"  s:1.9"</text><text x="700" y="719.5">EWr: 0, PLAE: 1000</text>
<text x="885" y="707.5">m:15.9  re:1.7"  s:2.0"</text>
</g>

<!-- BOTTOM TEXT -->
<text class="m" x="70" y="888.5">No matching targets in catalog.</text>
<text class="m" x="70" y="903.5">Row intentionally blank.</text>
</svg>
</body></html>
